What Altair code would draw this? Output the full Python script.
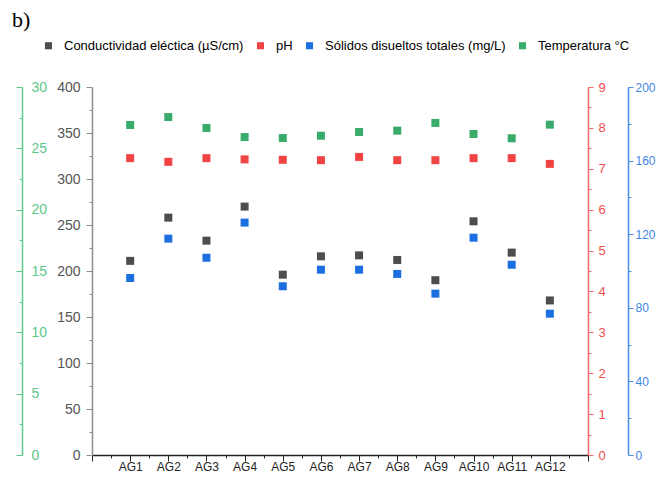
import json
import altair as alt
import pandas as pd

muestras = ["AG1", "AG2", "AG3", "AG4", "AG5", "AG6", "AG7", "AG8", "AG9", "AG10", "AG11", "AG12"]
conductividad = [211, 258, 233, 270, 196, 216, 217, 212, 190, 254, 220, 168]
ph = [7.26, 7.17, 7.26, 7.23, 7.22, 7.21, 7.29, 7.21, 7.21, 7.26, 7.26, 7.12]
solidos = [96.2, 117.6, 107.2, 126.3, 91.7, 100.7, 100.7, 98.4, 87.7, 118.1, 103.4, 76.8]
temperatura = [26.9, 27.55, 26.66, 25.92, 25.84, 26.03, 26.33, 26.44, 27.07, 26.17, 25.82, 26.93]

series = ["Conductividad eléctica (µS/cm)", "pH", "Sólidos disueltos totales (mg/L)", "Temperatura °C"]
colores = ["#4d4d4d", "#f04444", "#1c6fe0", "#39ab6a"]
panel = ["b)"]

rows = []
for vals, s in zip([conductividad, ph, solidos, temperatura], series):
    for i, (m, v) in enumerate(zip(muestras, vals)):
        rows.append({"idx": i + 1, "muestra": m, "serie": s, "valor": v})
df = pd.DataFrame(rows)

FONT = "Liberation Sans"
x_label_expr = ("datum.value % 1 === 0 && datum.value >= 1 && datum.value <= 12 ? "
                + json.dumps([""] + muestras) + "[datum.value] : ''")

x_enc = alt.X(
    "idx:Q",
    scale=alt.Scale(domain=[0, 13], nice=False, zero=False),
    axis=alt.Axis(
        title=None, values=[i * 0.5 for i in range(27)], labelExpr=x_label_expr,
        tickSize={"condition": {"test": "datum.value % 1 === 0", "value": 6}, "value": 3},
        domainColor="#222222", domainWidth=1.5, tickColor="#222222", tickWidth=1,
        labelFont=FONT, labelFontSize=12, labelColor="#222222", labelPadding=0,
        grid=False, labelFlush=False, labelOverlap=False,
    ),
)

color_enc = alt.Color(
    "serie:N",
    scale=alt.Scale(domain=series, range=colores),
    legend=alt.Legend(
        title=None, orient="none", direction="horizontal", legendX=-50, legendY=-48,
        symbolType="square", symbolSize=50, symbolStrokeWidth=0, symbolOpacity=1,
        labelFont=FONT, labelFontSize=13, labelColor="#000000", labelOffset=9,
        labelLimit=400, columnPadding=10, padding=0,
    ),
)


def layer(serie, domain, step, major, orient, offset, color, label_color, label_size,
          tick_major, label_pad, labels_right=False):
    n = int(round(domain[1] / step))
    vals = [i * step for i in range(n + 1)]
    axis_kwargs = dict(
        title=None, orient=orient, offset=offset, values=vals,
        labelExpr="datum.value % " + str(major) + " === 0 ? '' + datum.value : ''",
        tickSize={"condition": {"test": "datum.value % " + str(major) + " === 0", "value": tick_major}, "value": 3},
        domainColor=color, tickColor=color, labelColor=label_color, domainWidth=1.5, tickWidth=1,
        labelFont=FONT, labelFontSize=label_size, grid=False, labelFlush=False, labelOverlap=False,
        labelPadding=label_pad,
    )
    if labels_right:
        axis_kwargs["labelAlign"] = "left"
    return alt.Chart(df).transform_filter(
        alt.datum.serie == serie
    ).mark_square(size=64, opacity=1).encode(
        x=x_enc,
        y=alt.Y("valor:Q", scale=alt.Scale(domain=domain, nice=False, zero=True), axis=alt.Axis(**axis_kwargs)),
        color=color_enc,
    )


l_cond = layer(series[0], [0, 400], 25, 50, "left", 0, "#8c8c8c", "#555555", 14, 6, 6)
l_ph = layer(series[1], [0, 9], 0.5, 1, "right", 0, "#f46a6a", "#f04e4e", 13, 5, 5)
l_sdt = layer(series[2], [0, 200], 20, 40, "right", 40, "#4a8ee6", "#3f86e6", 12, 5, 2)
l_temp = layer(series[3], [0, 30], 2.5, 5, "left", 70, "#5fc98c", "#5cc88a", 14, 6, -15, labels_right=True)

l_panel = alt.Chart(pd.DataFrame({"etiqueta": panel})).mark_text(
    font="Liberation Serif", fontSize=22, align="left", baseline="middle", color="#000000"
).encode(text="etiqueta:N", x=alt.value(-80), y=alt.value(-67))

chart = alt.layer(l_cond, l_ph, l_sdt, l_temp, l_panel).resolve_scale(
    y="independent"
).properties(
    width=496, height=368,
    autosize=alt.AutoSizeParams(type="none"),
    padding={"left": 84, "top": 79, "right": 68, "bottom": 18},
).configure_view(stroke=None)

chart.save("out.html", embed_options={"renderer": "svg", "actions": False})
